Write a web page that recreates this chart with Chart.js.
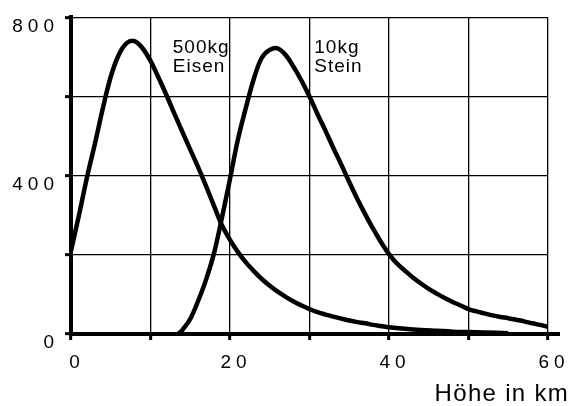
<!DOCTYPE html>
<html>
<head>
<meta charset="utf-8">
<script src="https://cdn.jsdelivr.net/npm/chart.js@4"></script>
<style>
  html, body { margin: 0; padding: 0; background: #fff; }
  #wrap { width: 576px; height: 406px; }
</style>
</head>
<body>
<div id="wrap"><canvas id="myChart" width="576" height="406"></canvas></div>
<script>
// Hoehe in km / Anzahl
var eisenKm = [0,1,2,3,4,5,6,7,8,9,10,11,12,13,14,15,16,17,18,19,20,21,22,23,24,25,26,27,28,29,30,31,32,33,34,35,36,37,38,39,40,42,44,46,48,50,52,55];
var eisenVal = [210,300,395,480,570,650,705,735,740,722,690,648,604,557,511,466,421,373,323,274,238,207,181,159,139,122,107,94,82,72,63,55,49,44,39,34,30,27,23,20,17,13,10,8,6,5,4,2];

var steinKm = [13.5,14,15,16,17,18,19,20,21,22,23,24,25,26,27,28,29,30,31,32,33,34,35,36,37,38,39,40,41,42,43,44,45,46,47,48,49,50,51,52,53,54,55,56,57,58,59,60];
var steinVal = [0,10,38,84,138,205,295,392,492,572,645,698,718,722,705,675,640,600,556,514,470,428,384,342,303,266,232,202,178,160,143,128,114,102,91,81,72,63,57,52,47,43,40,36,32,27,23,18];

var xTicks = [0, 20, 40, 60];
var yTicks = [0, 400, 800];
var seriesLabels = [['500kg', 'Eisen'], ['10kg', 'Stein']];
var axisTitle = 'Höhe in km';

function pts(xs, ys) {
  return xs.map(function (x, i) { return {x: x, y: ys[i]}; });
}

var extras = {
  id: 'extras',
  beforeDraw: function (chart) {
    chart.ctx.letterSpacing = '5px';
  },
  afterDraw: function (chart) {
    var ctx = chart.ctx, a = chart.chartArea;
    var xs = chart.scales.x, ys = chart.scales.y;
    ctx.save();
    // x axis runs a bit past 60
    ctx.strokeStyle = '#000';
    ctx.lineWidth = 4;
    ctx.beginPath();
    ctx.moveTo(a.right, a.bottom);
    ctx.lineTo(a.right + 12, a.bottom);
    ctx.stroke();

    ctx.fillStyle = '#000';
    ctx.letterSpacing = '1px';
    ctx.font = '19px "Liberation Sans", Arial, sans-serif';
    ctx.textAlign = 'left';
    ctx.textBaseline = 'alphabetic';
    var pos = [12.8, 30.6];
    seriesLabels.forEach(function (lines, i) {
      ctx.fillText(lines[0], xs.getPixelForValue(pos[i]), ys.getPixelForValue(709));
      ctx.fillText(lines[1], xs.getPixelForValue(pos[i]), ys.getPixelForValue(661));
    });

    ctx.letterSpacing = '1.3px';
    ctx.font = '24px "Liberation Sans", Arial, sans-serif';
    ctx.textAlign = 'right';
    ctx.fillText(axisTitle, 569, 401);
    ctx.restore();
  }
};

var tickFont = {family: '"Liberation Sans", Arial, sans-serif', size: 19};

var ctx = document.getElementById('myChart').getContext('2d');
var myChart = new Chart(ctx, {
  type: 'line',
  data: {
    datasets: [{
      label: '500kg Eisen',
      data: pts(eisenKm, eisenVal),
      borderColor: '#000',
      borderWidth: 4.5,
      pointRadius: 0,
      tension: 0.35
    }, {
      label: '10kg Stein',
      data: pts(steinKm, steinVal),
      borderColor: '#000',
      borderWidth: 4.5,
      pointRadius: 0,
      tension: 0.35
    }]
  },
  options: {
    responsive: false,
    animation: false,
    layout: { padding: {left: 0, top: 17, right: 28, bottom: 0} },
    plugins: {
      legend: { display: false },
      tooltip: { enabled: false }
    },
    scales: {
      x: {
        type: 'linear',
        min: 0,
        max: 60,
        afterFit: function (s) { s.height = 72; },
        ticks: {
          stepSize: 10,
          color: '#000',
          font: tickFont,
          padding: 11,
          labelOffset: 6,
          maxRotation: 0,
          callback: function (v) { return xTicks.indexOf(v) >= 0 ? String(v) : ''; }
        },
        grid: { color: '#000', lineWidth: 1.3, tickLength: 6, tickWidth: 3, tickColor: '#000' },
        border: { display: true, color: '#000', width: 4 }
      },
      y: {
        min: 0,
        max: 800,
        afterFit: function (s) { s.width = 71; },
        ticks: {
          stepSize: 200,
          color: '#000',
          font: tickFont,
          padding: 6,
          labelOffset: 9,
          callback: function (v) { return yTicks.indexOf(v) >= 0 ? String(v) : ''; }
        },
        grid: { color: '#000', lineWidth: 1.3, tickLength: 6, tickWidth: 3, tickColor: '#000' },
        border: { display: true, color: '#000', width: 4 }
      }
    }
  },
  plugins: [extras]
});
</script>
</body>
</html>
